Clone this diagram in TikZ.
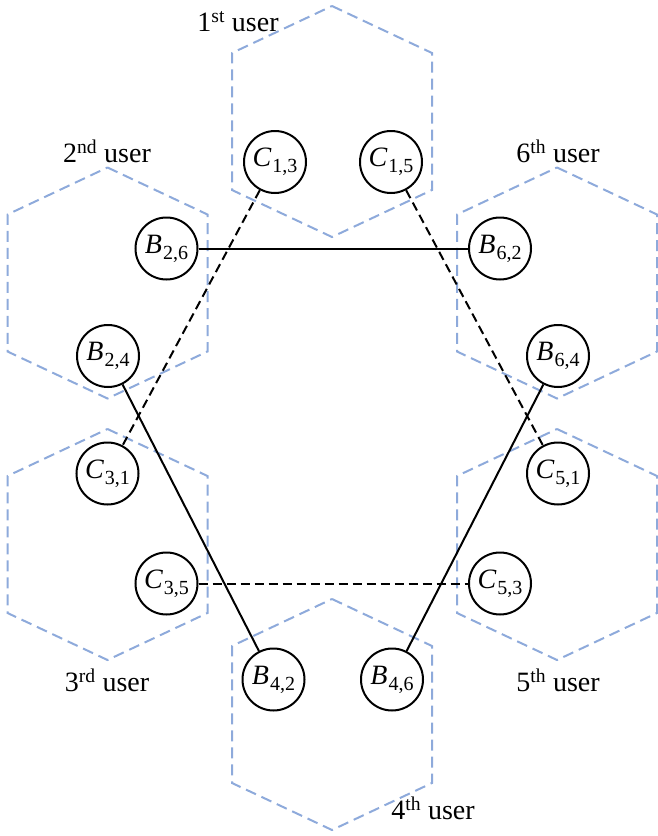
\documentclass[tikz,border=0pt]{standalone}
\usepackage{fontspec}
\setmainfont{Liberation Serif}
\newcommand{\nmlab}[2]{\textit{#1}\kern1pt\raisebox{-6pt}{\fontsize{20}{20}\selectfont #2}}
\begin{document}
\begin{tikzpicture}[x=1pt,y=-1pt,
  hexcell/.style={draw={rgb,255:red,142;green,170;blue,219},line width=2pt,dash pattern=on 11pt off 6pt},
  usr/.style={circle,draw,line width=2pt,fill=white,minimum size=62pt,inner sep=0pt,font=\fontsize{28}{30}\selectfont},
  lbl/.style={font=\fontsize{28}{30}\selectfont,inner sep=0pt},
  link/.style={line width=2pt},
  dlink/.style={line width=2pt,dash pattern=on 9pt off 5pt}]
\useasboundingbox (0,0) rectangle (658,836);
% hexagonal cells
\foreach \cx/\cy in {332/121.5, 107.5/283, 557/283, 107.5/544.5, 557/544.5, 332/714.5}{
  \draw[hexcell] (\cx,\cy-115.5) -- (\cx+100,\cy-68.5) -- (\cx+100,\cy+68.5) -- (\cx,\cy+115.5)
     -- (\cx-100,\cy+68.5) -- (\cx-100,\cy-68.5) -- cycle;
}
% labels
\node[lbl] (l1) at (238,22) {1\textsuperscript{st} user};
\node[lbl] (l2) at (107,151) {2\textsuperscript{nd} user};
\node[lbl] (l6) at (558,151) {6\textsuperscript{th} user};
\node[lbl] (l3) at (107,680) {3\textsuperscript{rd} user};
\node[lbl] (l5) at (558,680) {5\textsuperscript{th} user};
\node[lbl] (l4) at (433,808) {4\textsuperscript{th} user};
% nodes
\node[usr] (C13) at (275,162) {\nmlab{C}{1,3}};
\node[usr] (C15) at (391,162) {\nmlab{C}{1,5}};
\node[usr] (B26) at (166.5,248.5) {\nmlab{B}{2,6}};
\node[usr] (B24) at (108,356) {\nmlab{B}{2,4}};
\node[usr] (B62) at (500,248.5) {\nmlab{B}{6,2}};
\node[usr] (B64) at (558,356) {\nmlab{B}{6,4}};
\node[usr] (C31) at (107.5,473.5) {\nmlab{C}{3,1}};
\node[usr] (C35) at (166.5,583.5) {\nmlab{C}{3,5}};
\node[usr] (C51) at (558,473.5) {\nmlab{C}{5,1}};
\node[usr] (C53) at (500,583.5) {\nmlab{C}{5,3}};
\node[usr] (B42) at (273.5,679.5) {\nmlab{B}{4,2}};
\node[usr] (B46) at (392,679.5) {\nmlab{B}{4,6}};
% connectors
\draw[link] (B26) -- (B62);
\draw[link] (B24) -- (B42);
\draw[link] (B64) -- (B46);
\draw[dlink] (C13) -- (C31);
\draw[dlink] (C15) -- (C51);
\draw[dlink] (C35) -- (C53);
\end{tikzpicture}
\end{document}
